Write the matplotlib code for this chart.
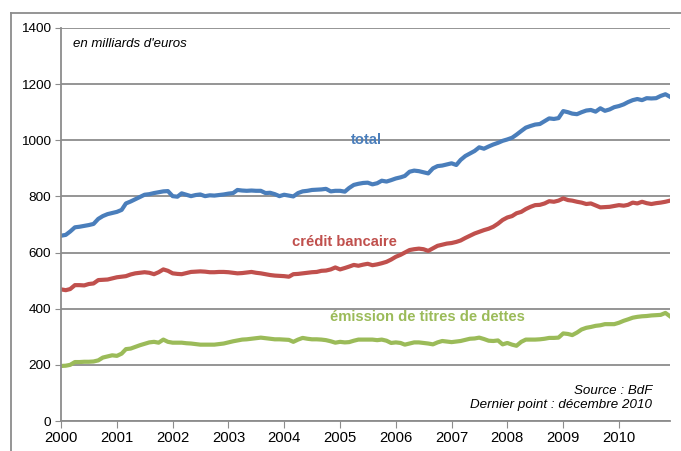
import matplotlib
matplotlib.use('Agg')
import matplotlib.pyplot as plt
import matplotlib.dates as mdates
from matplotlib.lines import Line2D
import pandas as pd

plt.rcParams['font.family'] = ['Liberation Sans', 'DejaVu Sans']

# monthly data, Jan 2000 - Dec 2010 (Mds EUR)
months = pd.date_range('2000-01-01', periods=132, freq='MS')

total = [
    660, 663, 675, 690, 692, 695, 698, 702, 720, 730, 737, 741,
    745, 752, 775, 782, 790, 798, 806, 808, 812, 815, 818, 819,
    801, 799, 811, 806, 801, 805, 807, 801, 804, 803, 805, 807,
    810, 812, 823, 821, 820, 821, 820, 820, 812, 813, 808, 801,
    806, 803, 800, 812, 818, 820, 823, 824, 825, 827, 818, 820,
    820, 817, 830, 841, 845, 848, 849, 843, 847, 856, 853, 858,
    864, 868, 873, 888, 892, 890, 886, 882, 900, 908, 910, 914,
    918, 912, 930, 944, 953, 962, 975, 970, 978, 985, 991, 998,
    1003, 1009, 1020, 1033, 1045, 1051, 1056, 1058, 1068, 1078, 1076, 1079,
    1104, 1100, 1095, 1093, 1100, 1106, 1108, 1102, 1114, 1105, 1110, 1118,
    1122, 1128, 1136, 1143, 1147, 1143, 1150, 1149, 1150, 1158, 1164, 1155,
]

credit = [
    469, 466, 470, 484, 484, 483, 488, 490, 502, 503, 504, 508,
    512, 514, 516, 522, 526, 528, 530, 528, 523, 530, 540, 535,
    526, 524, 523, 527, 531, 532, 533, 532, 530, 530, 531, 531,
    530, 528, 526, 527, 529, 531, 528, 526, 523, 520, 518, 517,
    516, 514, 523, 524, 526, 528, 530, 531, 535, 536, 540, 547,
    540, 545, 550, 556, 553, 557, 560, 555, 558, 562, 567, 575,
    585, 592, 600, 609, 612, 614, 612, 606, 615, 624, 628, 632,
    634, 638, 643, 652, 660, 668, 674, 680, 685, 692, 703, 716,
    725, 730, 740, 745, 755, 763, 769, 770, 775, 783, 781, 785,
    793, 787, 785, 781, 778, 773, 775, 768, 761, 762, 763, 766,
    769, 767, 770, 778, 775, 781, 776, 773, 776, 778, 781, 785,
]

titres = [
    196, 197, 200, 210, 210, 211, 211, 212, 216, 226, 230, 234,
    232, 240, 256, 258, 264, 270, 275, 280, 282, 279, 290, 282,
    279, 279, 279, 277, 276, 274, 272, 272, 272, 272, 274, 276,
    280, 284, 287, 290, 291, 293, 295, 297, 295, 293, 291, 291,
    290, 289, 282, 290, 296, 293, 291, 291, 290, 288, 284, 279,
    282, 280, 281, 286, 290, 290, 290, 290, 288, 290, 286, 278,
    280, 278, 272, 276, 280, 280, 278, 276, 273, 280, 285, 283,
    281, 283, 285, 289, 293, 294, 297, 292, 286, 285, 287, 273,
    278, 272, 268, 282, 290, 290, 290, 291, 293, 296, 296, 297,
    312, 310, 306, 315, 326, 332, 335, 339, 341, 345, 345, 345,
    350, 357, 362, 368, 371, 373, 374, 376, 377, 378, 385, 373,
]

years = pd.date_range('2000-01-01', '2010-01-01', freq='YS')
yticks = [0, 200, 400, 600, 800, 1000, 1200, 1400]

blue = '#4a7ebb'
red = '#c0504d'
green = '#9bbb59'
grid = '#8c8c8c'

fig = plt.figure(figsize=(6.81, 4.51), dpi=100)
ax = fig.add_axes([61 / 681, 1 - 421 / 451, 609 / 681, 393 / 451])

ax.plot(months, total, color=blue, lw=3, solid_joinstyle='round')
ax.plot(months, credit, color=red, lw=3, solid_joinstyle='round')
ax.plot(months, titres, color=green, lw=3, solid_joinstyle='round')

ax.set_xlim(months[0], months[-1])
ax.set_ylim(0, 1400)
ax.set_yticks(yticks)
ax.set_xticks(years)
ax.xaxis.set_major_formatter(mdates.DateFormatter('%Y'))
ax.yaxis.grid(True, color=grid, lw=1.3)
ax.set_axisbelow(True)

for s in ['top', 'right']:
    ax.spines[s].set_visible(False)
for s in ['left', 'bottom']:
    ax.spines[s].set_color(grid)
    ax.spines[s].set_linewidth(1.3)
ax.tick_params(axis='y', length=4, color=grid, labelsize=9.7, pad=3)
ax.tick_params(axis='x', length=5, color=grid, labelsize=10.7, pad=2)

fig.text(73 / 681, 1 - 44 / 451, "en milliards d'euros",
         style='italic', fontsize=9.5, va='center', ha='left')

fig.text(351 / 681, 1 - 140 / 451, 'total', color=blue, fontsize=10.6,
         weight='bold', ha='left', va='center')
fig.text(292 / 681, 1 - 242 / 451, 'crédit bancaire', color=red, fontsize=10.6,
         weight='bold', ha='left', va='center')
fig.text(330 / 681, 1 - 317 / 451, 'émission de titres de dettes', color=green,
         fontsize=10.6, weight='bold', ha='left', va='center')

fig.text(652 / 681, 1 - 391 / 451, 'Source : BdF', style='italic',
         fontsize=9.6, ha='right', va='center')
fig.text(652 / 681, 1 - 405 / 451, 'Dernier point : décembre 2010',
         style='italic', fontsize=9.6, ha='right', va='center')

# chart-area border (clipped at right/bottom in the original)
fig.add_artist(Line2D([11 / 681, 1], [1 - 13 / 451, 1 - 13 / 451],
                      color='#8c8c8c', lw=1.3))
fig.add_artist(Line2D([11 / 681, 11 / 681], [0, 1 - 13 / 451],
                      color='#8c8c8c', lw=1.3))

fig.savefig('out.png', dpi=100)
